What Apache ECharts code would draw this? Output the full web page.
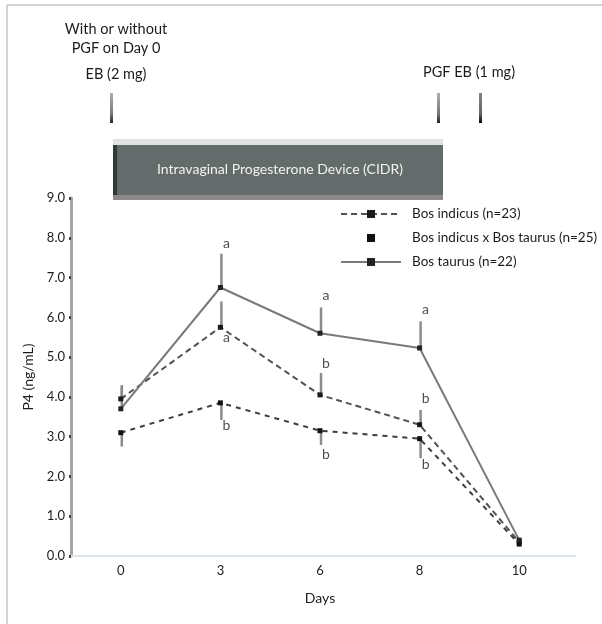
<!DOCTYPE html>
<html>
<head>
<meta charset="utf-8">
<script src="https://cdn.jsdelivr.net/npm/echarts@6/dist/echarts.min.js"></script>
<style>html,body{margin:0;padding:0;background:#fff}#c{width:602px;height:624px}</style>
</head>
<body>
<div id="c"></div>
<script>
// ---- data ----
const days = ['0', '3', '6', '8', '10'];
const seriesNames = ['Bos indicus (n=23)', 'Bos indicus x Bos taurus (n=25)', 'Bos taurus (n=22)'];
// mean P4 (ng/mL)
const bosIndicus = [3.95, 5.75, 4.05, 3.3, 0.35];
const bosCross = [3.1, 3.85, 3.15, 2.95, 0.3];
const bosTaurus = [3.7, 6.75, 5.6, 5.23, 0.4];
// error bar ends
const indicusErrHigh = [4.25, 6.4, 4.6, 3.67, null];
const crossErrLow = [2.75, 3.42, 2.79, 2.46, null];
const taurusErrHigh = [4.3, 7.6, 6.25, 5.9, null];
// significance letters and their vertical positions (ng/mL)
const indicusLetters = ['', 'a', 'b', 'b', ''];
const indicusLetterY = [null, 5.5, 4.85, 3.97, null];
const crossLetters = ['', 'b', 'b', 'b', ''];
const crossLetterY = [null, 3.27, 2.56, 2.29, null];
const taurusLetters = ['', 'a', 'a', 'a', ''];
const taurusLetterY = [null, 7.86, 6.56, 6.2, null];
const yTicks = ['0.0','1.0','2.0','3.0','4.0','5.0','6.0','7.0','8.0','9.0'];

const FONT = 'Lato';
const TXT = '#1c1c1c';
const chart = echarts.init(document.getElementById('c'), null, {renderer: 'canvas'});

function errData(base, ends) {
  const out = [];
  base.forEach((v, i) => { if (ends[i] != null) out.push([i, v, ends[i]]); });
  return out;
}
function letterData(letters, ys) {
  const out = [];
  letters.forEach((l, i) => { if (l) out.push({value: [i, ys[i]], name: l}); });
  return out;
}
function errSeries(data) {
  return {
    type: 'custom', silent: true, z: 1,
    data: data,
    renderItem: function (params, api) {
      const a = api.coord([api.value(0), api.value(1)]);
      const b = api.coord([api.value(0), api.value(2)]);
      return {type: 'line', shape: {x1: a[0] + 1, y1: a[1], x2: b[0] + 1, y2: b[1]},
        style: {stroke: '#8e8a8a', lineWidth: 2.5}};
    }
  };
}
function letterSeries(data) {
  return {
    type: 'scatter', silent: true, symbolSize: 0, data: data,
    label: {show: true, position: 'inside', offset: [6, 0], formatter: p => p.name,
      color: '#222', fontSize: 14, fontFamily: FONT}
  };
}

const option = {
  animation: false,
  backgroundColor: '#fff',
  grid: {left: 71, right: 33, top: 198, bottom: 68},
  legend: {
    left: 340, top: 207, orient: 'vertical', padding: 0,
    itemWidth: 60, itemHeight: 10, itemGap: 10,
    textStyle: {fontFamily: FONT, fontSize: 13.5, color: TXT, lineHeight: 14, padding: [0, 0, 0, 6]},
    data: [
      {name: seriesNames[0]},
      {name: seriesNames[1], lineStyle: {opacity: 0}},
      {name: seriesNames[2]}
    ]
  },
  xAxis: {
    type: 'category', data: days, boundaryGap: true,
    name: 'Days', nameLocation: 'middle', nameGap: 35,
    nameTextStyle: {fontFamily: FONT, fontSize: 14, color: TXT},
    axisLine: {lineStyle: {color: '#dde5ea', width: 2}},
    axisTick: {alignWithLabel: true, length: 5, lineStyle: {color: '#8a8a8a', width: 2}},
    axisLabel: {margin: 8, fontFamily: FONT, fontSize: 13, color: TXT}
  },
  yAxis: {
    type: 'value', min: 0, max: 9, interval: 1,
    name: 'P4 (ng/mL)', nameLocation: 'middle', nameGap: 36, nameRotate: 90,
    nameTextStyle: {fontFamily: FONT, fontSize: 14, color: TXT},
    splitLine: {show: false},
    axisLine: {show: true, lineStyle: {color: '#aaa3a3', width: 3}},
    axisTick: {show: true, length: 2, lineStyle: {color: '#444', width: 3}},
    axisLabel: {margin: 6, fontFamily: FONT, fontSize: 13, color: TXT,
      formatter: v => yTicks[Math.round(v)]}
  },
  graphic: [
    {type: 'line', shape: {x1: 7, y1: 5, x2: 602, y2: 5}, style: {stroke: '#c4c4c4', lineWidth: 1.5}},
    {type: 'line', shape: {x1: 7, y1: 5, x2: 7, y2: 624}, style: {stroke: '#c4c4c4', lineWidth: 1.5}},
    {type: 'line', shape: {x1: 569, y1: 556, x2: 576, y2: 556}, style: {stroke: '#dde5ea', lineWidth: 2}},
    {type: 'text', x: 116, y: 29, style: {text: 'With or without', fontFamily: FONT, fontSize: 14.5, fill: TXT, align: 'center', verticalAlign: 'middle'}},
    {type: 'text', x: 116, y: 48, style: {text: 'PGF on Day 0', fontFamily: FONT, fontSize: 14.5, fill: TXT, align: 'center', verticalAlign: 'middle'}},
    {type: 'text', x: 116, y: 74, style: {text: 'EB (2 mg)', fontFamily: FONT, fontSize: 14.5, fill: TXT, align: 'center', verticalAlign: 'middle'}},
    {type: 'text', x: 469, y: 72, style: {text: 'PGF EB (1 mg)', fontFamily: FONT, fontSize: 14.5, fill: TXT, align: 'center', verticalAlign: 'middle'}},
    {type: 'rect', shape: {x: 110, y: 93, width: 3, height: 30}, style: {fill: new echarts.graphic.LinearGradient(0, 0, 0, 1, [{offset: 0, color: '#b3abab'}, {offset: 0.7, color: '#777'}, {offset: 1, color: '#222'}])}},
    {type: 'rect', shape: {x: 437, y: 93, width: 3, height: 30}, style: {fill: new echarts.graphic.LinearGradient(0, 0, 0, 1, [{offset: 0, color: '#b3abab'}, {offset: 0.7, color: '#777'}, {offset: 1, color: '#222'}])}},
    {type: 'rect', shape: {x: 479, y: 93, width: 3, height: 30}, style: {fill: new echarts.graphic.LinearGradient(0, 0, 0, 1, [{offset: 0, color: '#8a8080'}, {offset: 0.7, color: '#666'}, {offset: 1, color: '#000'}])}},
    {type: 'rect', shape: {x: 113, y: 139, width: 330, height: 61}, style: {fill: '#8e8888'}},
    {type: 'rect', shape: {x: 113, y: 139, width: 330, height: 6}, style: {fill: '#e0e2e2'}},
    {type: 'rect', shape: {x: 113, y: 145, width: 330, height: 50}, style: {fill: '#646c6b'}},
    {type: 'rect', shape: {x: 113, y: 145, width: 4, height: 50}, style: {fill: '#2f3a39'}},
    {type: 'text', x: 280, y: 169, style: {text: 'Intravaginal Progesterone Device (CIDR)', fontFamily: FONT, fontSize: 14, fill: '#f2f2f2', align: 'center', verticalAlign: 'middle'}}
  ],
  series: [
    {
      name: seriesNames[0], type: 'line', data: bosIndicus, z: 3,
      symbol: 'rect', symbolSize: 5,
      itemStyle: {color: '#1a1a1a'},
      lineStyle: {color: '#4d5454', width: 2, type: [6, 4]}
    },
    {
      name: seriesNames[1], type: 'line', data: bosCross, z: 3,
      symbol: 'rect', symbolSize: 5,
      itemStyle: {color: '#111'},
      lineStyle: {color: '#3d3d3d', width: 2, type: [5, 5]}
    },
    {
      name: seriesNames[2], type: 'line', data: bosTaurus, z: 3,
      symbol: 'rect', symbolSize: 5,
      itemStyle: {color: '#222'},
      lineStyle: {color: '#7d7878', width: 2}
    },
    errSeries(errData(bosIndicus, indicusErrHigh)),
    errSeries(errData(bosCross, crossErrLow)),
    errSeries(errData(bosTaurus, taurusErrHigh)),
    letterSeries(letterData(indicusLetters, indicusLetterY)),
    letterSeries(letterData(crossLetters, crossLetterY)),
    letterSeries(letterData(taurusLetters, taurusLetterY))
  ]
};
chart.setOption(option);
</script>
</body>
</html>
